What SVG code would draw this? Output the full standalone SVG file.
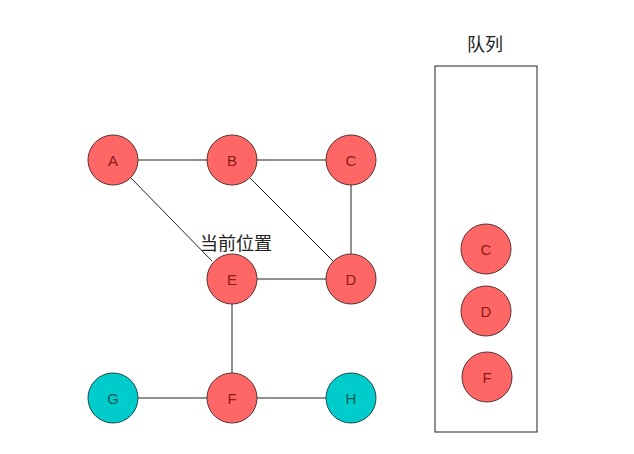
<svg xmlns="http://www.w3.org/2000/svg" width="634" height="454" viewBox="0 0 634 454">
<style>
.n{fill:#ff6666;stroke:#5a3030;stroke-width:1}
.t{fill:#00cccc;stroke:#1a4a4a;stroke-width:1}
.l{font-family:"Liberation Sans",Arial,sans-serif;font-size:15px;text-anchor:middle;dominant-baseline:central;fill:#8b1a1a}
.lt{fill:#0a5a5a}
.e{stroke:#222;stroke-width:1;fill:none}
.cjk{font-family:"Liberation Sans","Noto Sans CJK SC",sans-serif;font-size:18px;text-anchor:middle;fill:#222}
</style>
<rect width="634" height="454" fill="#fff"/>
<g id="connectors">
<line class="e" x1="138" y1="160" x2="207" y2="160"/>
<line class="e" x1="257" y1="160" x2="326" y2="160"/>
<line class="e" x1="351" y1="185" x2="351" y2="254"/>
<line class="e" x1="131" y1="178" x2="212" y2="261"/>
<line class="e" x1="250" y1="178" x2="333" y2="261"/>
<line class="e" x1="257" y1="279" x2="326" y2="279"/>
<line class="e" x1="232" y1="304" x2="232" y2="373"/>
<line class="e" x1="138" y1="398" x2="207" y2="398"/>
<line class="e" x1="257" y1="398" x2="326" y2="398"/>
</g>
<g id="A"><circle class="n" cx="113" cy="160" r="25"/><text class="l" x="113" y="160">A</text></g>
<g id="B"><circle class="n" cx="232" cy="160" r="25"/><text class="l" x="232" y="160">B</text></g>
<g id="C"><circle class="n" cx="351" cy="160" r="25"/><text class="l" x="351" y="160">C</text></g>
<g id="D"><circle class="n" cx="351" cy="279" r="25"/><text class="l" x="351" y="279">D</text></g>
<g id="E"><circle class="n" cx="232" cy="279" r="25"/><text class="l" x="232" y="279">E</text></g>
<g id="F"><circle class="n" cx="232" cy="398" r="25"/><text class="l" x="232" y="398">F</text></g>
<g id="G"><circle class="t" cx="113" cy="398" r="25"/><text class="l lt" x="113" y="398">G</text></g>
<g id="H"><circle class="t" cx="351" cy="398" r="25"/><text class="l lt" x="351" y="398">H</text></g>
<g id="current-label"><text class="cjk" x="236" y="250">当前位置</text></g>
<g id="queue">
<rect x="435" y="66" width="102" height="366" fill="#fff" stroke="#222" stroke-width="1"/>
<text class="cjk" x="485" y="51" fill="#444">队列</text>
</g>
<g id="QC"><circle class="n" cx="486" cy="249" r="25"/><text class="l" x="486" y="249">C</text></g>
<g id="QD"><circle class="n" cx="486" cy="311" r="25"/><text class="l" x="486" y="311">D</text></g>
<g id="QF"><circle class="n" cx="487" cy="377" r="25"/><text class="l" x="487" y="377">F</text></g>
</svg>
